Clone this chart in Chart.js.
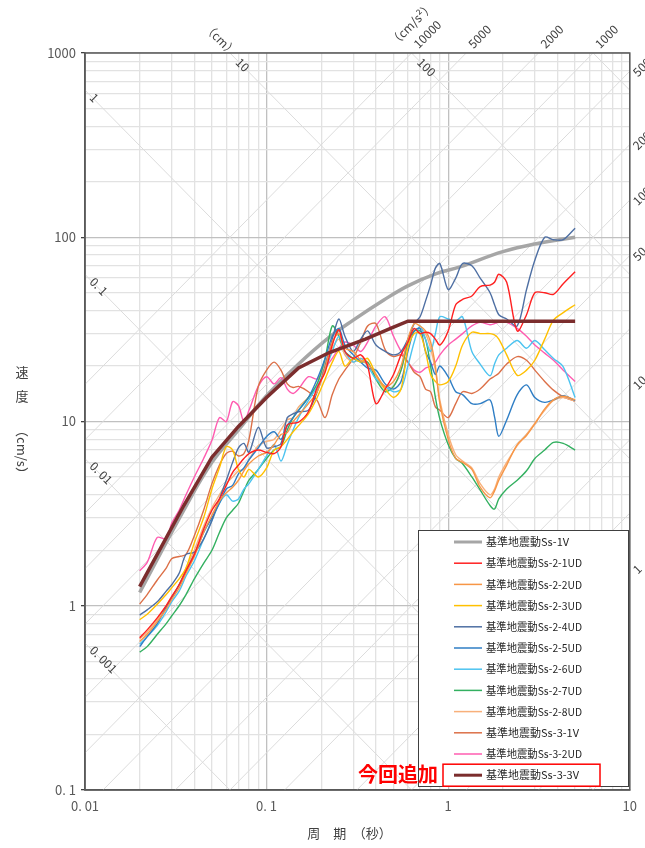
<!DOCTYPE html>
<html>
<head>
<meta charset="utf-8">
<script src="https://cdn.jsdelivr.net/npm/chart.js@4.4.0/dist/chart.umd.min.js"></script>
<style>
  html, body { margin: 0; padding: 0; background: #fff; }
</style>
</head>
<body>
<canvas id="spectrum" width="645" height="848"></canvas>
<script>
// axis ticks
const xTickValues = [0.01, 0.1, 1, 10];
const xTickLabels = ['0. 01', '0. 1', '1', '10'];
const yTickValues = [0.1, 1, 10, 100, 1000];
const yTickLabels = ['0. 1', '1', '10', '100', '1000'];

// tripartite guide lines (cm and cm/s2)
const dispLines = [0.001, 0.01, 0.1, 1, 10, 100, 1000];
const accLines = [0.1, 0.2, 0.5, 1, 2, 5, 10, 20, 50, 100, 200, 500, 1000, 2000, 5000, 10000];
const dispLeftLabels = [1, 0.1, 0.01, 0.001];
const dispLeftText = ['1', '0. 1', '0. 01', '0. 001'];
const dispTopLabels = [10, 100];
const accTopLabels = [10000, 5000, 2000, 1000];
const accRightLabels = [500, 200, 100, 50, 10, 1];

// design spectra
const ss1vPeriods = [0.02, 0.035, 0.05, 0.07, 0.1, 0.15, 0.22, 0.3, 0.44, 0.6, 0.86, 1.16, 2.0, 3.1, 5.0];
const ss1vVel = [1.18, 3.3, 6.0, 9.0, 13.8, 20.5, 28.5, 35.5, 45.5, 54.5, 63.5, 69, 83.5, 92.5, 100];
const ss33vPeriods = [0.02, 0.035, 0.05, 0.07, 0.1, 0.15, 0.22, 0.35, 0.5, 0.6, 5.0];
const ss33vVel = [1.27, 3.5, 6.4, 9.4, 13.5, 19.5, 23.6, 28, 32.5, 35, 35];

// periods shared by the other spectra (s)
const periods = [0.02, 0.022, 0.025, 0.028, 0.03, 0.033, 0.036, 0.04, 0.045, 0.05,
  0.055, 0.06, 0.065, 0.07, 0.075, 0.08, 0.09, 0.1, 0.11, 0.12,
  0.13, 0.14, 0.15, 0.17, 0.19, 0.21, 0.23, 0.25, 0.27, 0.3,
  0.33, 0.36, 0.4, 0.45, 0.5, 0.55, 0.6, 0.65, 0.7, 0.75,
  0.8, 0.85, 0.9, 1.0, 1.1, 1.2, 1.35, 1.5, 1.7, 1.8,
  1.9, 2.1, 2.4, 2.7, 3.0, 3.4, 3.8, 4.3, 5.0];

const ss2_1ud = [0.67, 0.74, 0.86, 1.0, 1.12, 1.3, 1.55, 1.9, 2.6, 3.3,
  3.8, 4.5, 5.3, 5.8, 6.3, 6.7, 7.0, 6.8, 6.7, 7.3,
  9.6, 9.8, 9.9, 11.3, 15.3, 18.5, 26, 31.5, 24, 22,
  23, 20, 12.5, 15, 18, 23, 27, 32, 30, 30.5,
  30, 28, 26, 31, 43, 46, 48, 54, 55, 57,
  63, 57, 31, 38, 50, 50, 49, 56, 65];
const ss2_2ud = [0.64, 0.7, 0.82, 0.96, 1.08, 1.25, 1.5, 1.85, 2.5, 3.1,
  3.7, 4.1, 4.4, 4.8, 5.4, 5.9, 6.5, 6.8, 7.5, 8.5,
  8.7, 10, 10.8, 12.5, 14.5, 19.5, 27, 30, 25, 24,
  21.5, 20.5, 18, 15.5, 16.5, 20, 28, 34, 33, 31,
  27, 20, 12.5, 8.0, 6.3, 6.0, 5.5, 4.4, 3.85, 4.2,
  4.8, 5.8, 7.5, 8.4, 9.7, 11.7, 13.1, 13.7, 13.1];
const ss2_3ud = [0.84, 0.9, 1.02, 1.15, 1.25, 1.4, 1.6, 2.2, 3.0, 4.3,
  5.6, 7.3, 7.0, 5.5, 5.0, 5.5, 5.0, 5.6, 7.0, 7.3,
  8.0, 8.8, 9.5, 11, 13.5, 17, 21, 24, 20, 22,
  21, 22, 18, 15, 13.5, 15, 25, 30, 30, 24,
  18, 16.5, 15.8, 16.5, 20, 26, 30.5, 30, 30, 29.5,
  28, 23, 17.8, 19, 21.5, 28, 35.5, 39, 43];
const ss2_4ud = [0.89, 0.95, 1.05, 1.2, 1.3, 1.5, 1.9, 1.95, 2.3, 2.9,
  3.8, 4.8, 6.0, 7.2, 7.6, 6.8, 9.3, 7.2, 7.3, 7.6,
  10.5, 11, 11.3, 11.5, 14.5, 20, 28, 36, 29, 24,
  28, 31, 26, 24, 23, 24, 28, 34, 37, 45,
  55, 68, 72, 52, 60, 72, 70, 60, 50, 43,
  38, 36, 33, 52, 75, 100, 97, 97, 112];
const ss2_5ud = [0.6, 0.68, 0.8, 0.98, 1.1, 1.3, 1.55, 1.9, 2.5, 3.0,
  3.6, 4.3, 4.5, 5.2, 5.6, 6.2, 7.2, 8.3, 8.8, 8.0,
  9.5, 10.5, 11.5, 13.5, 17, 22, 29, 32, 26, 23,
  21, 19.5, 19, 16, 15, 16.5, 24, 31, 32, 24,
  21, 18, 20, 17.5, 14.5, 14, 12.5, 12.5, 13.1, 10.6,
  8.3, 10.2, 14, 15.8, 13.5, 12.7, 13.1, 13.8, 13.0];
const ss2_6ud = [0.62, 0.68, 0.78, 0.93, 1.05, 1.2, 1.45, 1.75, 2.3, 2.9,
  3.6, 4.0, 3.7, 3.8, 4.3, 4.6, 5.5, 6.5, 7.5, 6.1,
  7.5, 9, 10.5, 13, 15.5, 19, 24, 29, 24, 21,
  22, 20, 17, 15.5, 14.5, 15, 20, 27, 33, 28,
  24, 30, 37, 36, 35, 37, 24, 20.5, 17.7, 20.5,
  23, 25, 27.5, 25, 27.5, 24.5, 22, 19.8, 13.5];
const ss2_7ud = [0.56, 0.6, 0.7, 0.8, 0.88, 1.0, 1.15, 1.4, 1.7, 2.0,
  2.5, 3.0, 3.3, 3.6, 4.2, 4.8, 5.5, 6.3, 7.0, 7.3,
  9, 10.5, 11.5, 13.5, 16, 22, 33, 29, 24, 22,
  21, 21, 17, 14.5, 15.5, 19, 27, 31, 31, 28,
  20, 13.5, 10.3, 7.5, 6.3, 5.9, 5.0, 4.25, 3.5, 3.35,
  3.8, 4.3, 4.8, 5.4, 6.3, 7.0, 7.7, 7.6, 7.0];
const ss2_8ud = [0.66, 0.72, 0.84, 1.0, 1.12, 1.3, 1.6, 2.0, 2.7, 3.4,
  4.0, 4.6, 5.0, 5.4, 5.5, 6.2, 7.4, 7.8, 8.0, 9.0,
  10.2, 10.5, 12, 13.5, 16, 21, 25, 28, 23, 21,
  22, 21, 17.5, 15, 15.5, 19, 26, 31, 32, 30,
  25, 19, 13, 8.5, 6.6, 6.1, 5.6, 4.6, 4.0, 4.3,
  5.0, 6.0, 7.4, 8.5, 9.8, 11.5, 13.0, 13.5, 12.9];
const ss3_1v = [1.02, 1.15, 1.38, 1.6, 1.8, 1.85, 1.9, 2.4, 3.3, 4.6,
  5.8, 6.7, 6.9, 6.5, 6.7, 8.0, 15.5, 19.0, 21.0, 19.0,
  16.0, 15.3, 15.5, 14.5, 13.0, 10.5, 14.0, 17.0, 19, 22,
  27, 33, 34, 24.5, 22.5, 23, 21, 18.5, 17.5, 15,
  14.5, 12, 11.5, 10.5, 12.5, 14.5, 14.2, 15.0, 17.0, 17.6,
  18.3, 20.5, 22.5, 21.5, 19, 16.5, 14.8, 13.6, 12.9];
const ss3_2ud = [1.55, 1.72, 2.35, 2.3, 2.8, 3.3, 4.0, 5.0, 6.3, 7.9,
  10.5, 10.0, 12.8, 12.2, 10.0, 11.5, 15.5, 17.5, 16.0, 17.3,
  15.0, 14.2, 15.0, 17.5, 17.0, 19.5, 22, 25, 27, 26,
  24, 27, 33, 37, 29, 24, 21, 19, 18.5, 19.5,
  20, 21, 23, 26, 28, 30, 33, 34.5, 33.5, 34,
  34.5, 34.5, 32, 29, 26, 23.5, 21.5, 19, 16.5];

const seriesNames = ['基準地震動Ss-1V', '基準地震動Ss-2-1UD', '基準地震動Ss-2-2UD', '基準地震動Ss-2-3UD',
  '基準地震動Ss-2-4UD', '基準地震動Ss-2-5UD', '基準地震動Ss-2-6UD', '基準地震動Ss-2-7UD',
  '基準地震動Ss-2-8UD', '基準地震動Ss-3-1V', '基準地震動Ss-3-2UD', '基準地震動Ss-3-3V'];
const seriesColors = ['#a6a6a6', '#ff2020', '#f79646', '#ffc000',
  '#4e6fa3', '#2f7ec5', '#4cc3f0', '#33b060',
  '#f8b07a', '#dc7048', '#ff5cb0', '#7b2d2d'];

function toPoints(ts, vs) {
  return ts.map((t, i) => ({ x: t, y: vs[i] }));
}

const observed = [ss2_1ud, ss2_2ud, ss2_3ud, ss2_4ud, ss2_5ud, ss2_6ud, ss2_7ud, ss2_8ud, ss3_1v, ss3_2ud];

const datasets = [];
datasets.push({
  label: seriesNames[0], data: toPoints(ss1vPeriods, ss1vVel),
  borderColor: seriesColors[0], borderWidth: 3.5, tension: 0.4, order: 3
});
observed.forEach((vals, i) => {
  datasets.push({
    label: seriesNames[i + 1], data: toPoints(periods, vals),
    borderColor: seriesColors[i + 1], borderWidth: 1.4, tension: 0.3, order: 2
  });
});
datasets.push({
  label: seriesNames[11], data: toPoints(ss33vPeriods, ss33vVel),
  borderColor: seriesColors[11], borderWidth: 3.5, tension: 0, order: 1
});

const FONT = '"Noto Sans CJK JP", "Noto Sans", sans-serif';

function logGrid(min, max) {
  const out = [];
  for (let e = Math.log10(min); e < Math.log10(max); e++) {
    for (let m = 1; m < 10; m++) out.push({ value: m * Math.pow(10, e) });
  }
  out.push({ value: max });
  return out;
}

function isMajor(v, list) {
  return list.some(t => Math.abs(t - v) / t < 1e-6);
}

function rotText(ctx, text, px, py, ang) {
  ctx.save();
  ctx.translate(px, py);
  ctx.rotate(ang);
  ctx.fillText(text, 0, 0);
  ctx.restore();
}

const tripartite = {
  id: 'tripartite',
  beforeDatasetsDraw(chart) {
    const { ctx, chartArea: a, scales: { x, y } } = chart;
    ctx.save();
    ctx.beginPath();
    ctx.rect(a.left, a.top, a.right - a.left, a.bottom - a.top);
    ctx.clip();
    ctx.strokeStyle = '#dcdcdc';
    ctx.lineWidth = 1;
    const t0 = 0.01, t1 = 10;
    dispLines.forEach(d => {
      ctx.beginPath();
      ctx.moveTo(x.getPixelForValue(t0), y.getPixelForValue(2 * Math.PI * d / t0));
      ctx.lineTo(x.getPixelForValue(t1), y.getPixelForValue(2 * Math.PI * d / t1));
      ctx.stroke();
    });
    accLines.forEach(acc => {
      ctx.beginPath();
      ctx.moveTo(x.getPixelForValue(t0), y.getPixelForValue(acc * t0 / (2 * Math.PI)));
      ctx.lineTo(x.getPixelForValue(t1), y.getPixelForValue(acc * t1 / (2 * Math.PI)));
      ctx.stroke();
    });
    ctx.restore();
  },
  afterDraw(chart) {
    const { ctx, chartArea: a, scales: { x, y } } = chart;
    ctx.save();
    // frame
    ctx.strokeStyle = '#595959';
    ctx.lineWidth = 1.5;
    ctx.strokeRect(a.left, a.top, a.right - a.left, a.bottom - a.top);

    // guide line labels
    ctx.fillStyle = '#404040';
    ctx.font = '12px ' + FONT;
    ctx.textAlign = 'left';
    ctx.textBaseline = 'middle';
    dispLeftLabels.forEach((d, i) => {
      const py = y.getPixelForValue(2 * Math.PI * d / 0.01);
      rotText(ctx, dispLeftText[i], a.left + 7, py + 5, Math.PI / 4);
    });
    dispTopLabels.forEach(d => {
      const px = x.getPixelForValue(2 * Math.PI * d / 1000);
      rotText(ctx, String(d), px + 8, a.top + 7, Math.PI / 4);
    });
    const x10 = x.getPixelForValue(2 * Math.PI * 10 / 1000);
    rotText(ctx, '（cm）', x10 - 24, a.top - 28, Math.PI / 4);
    accTopLabels.forEach(acc => {
      const px = x.getPixelForValue(2 * Math.PI * 1000 / acc);
      rotText(ctx, String(acc), px + 4, a.top - 7, -Math.PI / 4);
    });
    const xa = x.getPixelForValue(2 * Math.PI * 1000 / 10000);
    rotText(ctx, '（cm/s²）', xa - 20, a.top - 9, -Math.PI / 4);
    accRightLabels.forEach(acc => {
      const py = y.getPixelForValue(acc * 10 / (2 * Math.PI));
      rotText(ctx, String(acc), a.right + 5, py + 3, -Math.PI / 4);
    });

    // axis titles
    ctx.fillStyle = '#404040';
    ctx.font = '13px ' + FONT;
    ctx.textAlign = 'center';
    ctx.textBaseline = 'middle';
    ctx.fillText('周　期　（秒）', (a.left + a.right) / 2 - 8, 833);
    ctx.fillText('速', 22, 372);
    ctx.fillText('度', 22, 396);
    rotText(ctx, '（cm/s）', 22, 452, Math.PI / 2);

    // legend
    const lx = 418, ly = 530, lw = 210, lh = 256;
    ctx.fillStyle = '#ffffff';
    ctx.fillRect(lx, ly, lw, lh);
    ctx.strokeStyle = '#404040';
    ctx.lineWidth = 1;
    ctx.strokeRect(lx + 0.5, ly + 0.5, lw, lh);
    ctx.font = '11px ' + FONT;
    ctx.textAlign = 'left';
    chart.data.datasets.forEach((ds, i) => {
      const yy = ly + 12 + i * 21.2;
      ctx.strokeStyle = ds.borderColor;
      ctx.lineWidth = ds.borderWidth > 2 ? 3 : 1.5;
      ctx.beginPath();
      ctx.moveTo(454, yy);
      ctx.lineTo(482, yy);
      ctx.stroke();
      ctx.fillStyle = '#262626';
      ctx.fillText(ds.label, 486, yy, 96);
    });
    const lastY = ly + 12 + 11 * 21.2;
    ctx.strokeStyle = '#ff0000';
    ctx.lineWidth = 1.5;
    ctx.strokeRect(443, lastY - 11, 157, 22);
    ctx.fillStyle = '#ff0000';
    ctx.font = 'bold 20px ' + FONT;
    ctx.textAlign = 'right';
    ctx.fillText('今回追加', 438, lastY - 1);
    ctx.restore();
  }
};

const gridColor = major => major ? '#c0c0c0' : '#e2e2e2';

new Chart(document.getElementById('spectrum'), {
  type: 'line',
  data: { datasets },
  plugins: [tripartite],
  options: {
    responsive: false,
    animation: false,
    devicePixelRatio: 1,
    parsing: true,
    layout: { padding: { top: 53, right: 15, left: 0, bottom: 0 } },
    elements: { point: { radius: 0 } },
    plugins: { legend: { display: false }, tooltip: { enabled: false } },
    scales: {
      x: {
        type: 'logarithmic', min: 0.01, max: 10,
        afterFit: s => { s.height = 58; },
        afterBuildTicks: s => { s.ticks = logGrid(0.01, 10); },
        ticks: {
          autoSkip: false, maxRotation: 0, padding: 8, color: '#595959',
          font: { family: FONT, size: 13 },
          callback: v => {
            const i = xTickValues.findIndex(t => Math.abs(t - v) / t < 1e-6);
            return i >= 0 ? xTickLabels[i] : '';
          }
        },
        grid: {
          drawTicks: false, lineWidth: 1.3,
          color: c => gridColor(c.tick && isMajor(c.tick.value, xTickValues))
        },
        border: { color: '#595959', width: 1.5 }
      },
      y: {
        type: 'logarithmic', min: 0.1, max: 1000,
        afterFit: s => { s.width = 85; },
        afterBuildTicks: s => { s.ticks = logGrid(0.1, 1000); },
        ticks: {
          autoSkip: false, padding: 5, color: '#595959',
          font: { family: FONT, size: 13 },
          callback: v => {
            const i = yTickValues.findIndex(t => Math.abs(t - v) / t < 1e-6);
            return i >= 0 ? yTickLabels[i] : '';
          }
        },
        grid: {
          drawTicks: true, tickLength: 4, lineWidth: 1.3,
          color: c => gridColor(c.tick && isMajor(c.tick.value, yTickValues)),
          tickColor: c => (c.tick && isMajor(c.tick.value, yTickValues)) ? '#404040' : 'rgba(0,0,0,0)'
        },
        border: { color: '#595959', width: 1.5 }
      }
    }
  }
});
</script>
</body>
</html>
